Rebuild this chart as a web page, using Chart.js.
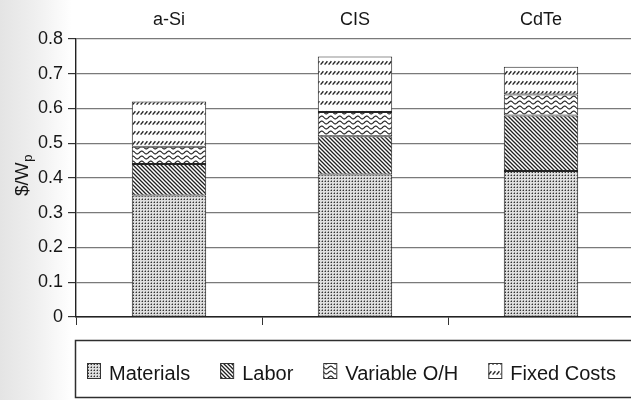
<!DOCTYPE html>
<html>
<head>
<meta charset="utf-8">
<script src="https://cdn.jsdelivr.net/npm/chart.js@4"></script>
<style>
  html, body { margin: 0; padding: 0; overflow: hidden; width: 631px; height: 400px; }
  body { background: linear-gradient(to right, #e4e4e4 0px, #efefef 35px, #ffffff 72px); }
  #wrap { position: relative; width: 634px; height: 400px; }
</style>
</head>
<body>
<div id="wrap"><canvas id="c"></canvas></div>
<script>
// Manufacturing cost breakdown per technology, $/Wp
const technologies = ['a-Si', 'CIS', 'CdTe'];
const seriesNames = ['Materials', 'Labor', 'Variable O/H', 'Fixed Costs'];
const materials  = [0.35, 0.41, 0.42];
const labor      = [0.09, 0.11, 0.16];
const variableOH = [0.05, 0.07, 0.06];
const fixedCosts = [0.13, 0.16, 0.08];

const FONT = '"Liberation Sans", Arial, Helvetica, sans-serif';
const INK = '#161616';

// Hatch fills, one per cost component
function tile(w, h, draw) {
  const c = document.createElement('canvas');
  c.width = w; c.height = h;
  const g = c.getContext('2d');
  g.fillStyle = '#ffffff';
  g.fillRect(0, 0, w, h);
  draw(g, w, h);
  return g.createPattern(c, 'repeat');
}
const dots = tile(3, 3, (g) => {
  g.fillStyle = '#dedede'; g.fillRect(0, 0, 3, 3);
  g.fillStyle = '#959595'; g.fillRect(0, 1, 1, 1); g.fillRect(1, 0, 1, 1);
  g.fillStyle = '#333333'; g.fillRect(1, 1, 1, 1);
});
const backslash = tile(4, 4, (g, w, h) => {
  g.strokeStyle = '#202020'; g.lineWidth = 1.3;
  g.beginPath();
  g.moveTo(-1, -1); g.lineTo(w + 1, h + 1);
  g.moveTo(-1, h - 1); g.lineTo(1, h + 1);
  g.moveTo(w - 1, -1); g.lineTo(w + 1, 1);
  g.stroke();
});
const waves = tile(9, 5, (g, w) => {
  g.strokeStyle = '#202020'; g.lineWidth = 1.1;
  g.beginPath();
  for (let x = 0; x <= w; x += 0.5) {
    const y = 2.5 + 1.4 * Math.sin(2 * Math.PI * x / w);
    if (x === 0) g.moveTo(x, y); else g.lineTo(x, y);
  }
  g.stroke();
});
const slashes = tile(4, 10, (g) => {
  g.strokeStyle = '#262626'; g.lineWidth = 1.4;
  g.beginPath();
  g.moveTo(0.6, 4.6); g.lineTo(3.4, 1.2);
  g.stroke();
});
const fills = [dots, backslash, waves, slashes];
const values = [materials, labor, variableOH, fixedCosts];

// Y-axis title with subscript p
const yTitlePlugin = {
  id: 'yTitle',
  afterDraw(chart) {
    const ctx = chart.ctx;
    ctx.save();
    ctx.translate(28, 196);
    ctx.rotate(-Math.PI / 2);
    ctx.fillStyle = INK;
    ctx.textAlign = 'left';
    ctx.textBaseline = 'alphabetic';
    ctx.font = '19px ' + FONT;
    ctx.fillText('$/W', 0, 0);
    const w = ctx.measureText('$/W').width;
    ctx.font = '13px ' + FONT;
    ctx.fillText('p', w + 0.5, 4);
    ctx.restore();
  }
};

// Framed legend row under the plot
const boxLegendPlugin = {
  id: 'boxLegend',
  afterDraw(chart) {
    const ctx = chart.ctx;
    ctx.save();
    ctx.strokeStyle = '#2e2e2e';
    ctx.lineWidth = 1.5;
    ctx.strokeRect(75.5, 340.5, 700, 57);
    ctx.font = '20px ' + FONT;
    ctx.textBaseline = 'alphabetic';
    ctx.textAlign = 'left';
    let x = 87;
    chart.data.datasets.forEach((ds) => {
      ctx.fillStyle = ds.backgroundColor;
      ctx.fillRect(x, 363, 13, 15);
      ctx.strokeStyle = '#333';
      ctx.lineWidth = 1;
      ctx.strokeRect(x + 0.5, 363.5, 13, 15);
      x += 13 + 9;
      ctx.fillStyle = INK;
      ctx.fillText(ds.label, x, 380);
      x += ctx.measureText(ds.label).width + 30;
    });
    ctx.restore();
  }
};

new Chart(document.getElementById('c'), {
  type: 'bar',
  data: {
    labels: technologies,
    datasets: seriesNames.map((name, i) => ({
      label: name,
      data: values[i],
      backgroundColor: fills[i],
      borderColor: '#222',
      borderWidth: 1,
      borderSkipped: false,
      categoryPercentage: 1,
      barPercentage: 0.4
    }))
  },
  options: {
    responsive: true,
    maintainAspectRatio: false,
    animation: false,
    layout: { padding: 0 },
    plugins: {
      legend: { display: false },
      tooltip: { enabled: false }
    },
    scales: {
      x: {
        stacked: true,
        offset: true,
        ticks: { display: false },
        grid: { display: true, offset: true, drawOnChartArea: false, drawTicks: true, tickLength: 8, color: '#333', lineWidth: 1 },
        border: { display: true, color: '#222', width: 1.4 },
        afterFit(s) { s.height = 83; }
      },
      x2: {
        type: 'category',
        position: 'top',
        offset: true,
        labels: technologies,
        grid: { display: false, drawTicks: false },
        border: { display: false },
        ticks: { color: INK, font: { family: FONT, size: 18 }, padding: 8 },
        afterFit(s) { s.height = 39; }
      },
      y: {
        stacked: true,
        min: 0,
        max: 0.8,
        ticks: {
          stepSize: 0.1,
          color: INK,
          padding: 5,
          font: { family: FONT, size: 18 },
          callback: (v) => (v === 0 ? '0' : Number(v).toFixed(1))
        },
        grid: { color: '#7a7a7a', lineWidth: 1.2, tickColor: '#333', tickLength: 8, drawTicks: true },
        border: { display: true, color: '#222', width: 1.4 },
        afterFit(s) { s.width = 76; }
      }
    }
  },
  plugins: [yTitlePlugin, boxLegendPlugin]
});
</script>
</body>
</html>
